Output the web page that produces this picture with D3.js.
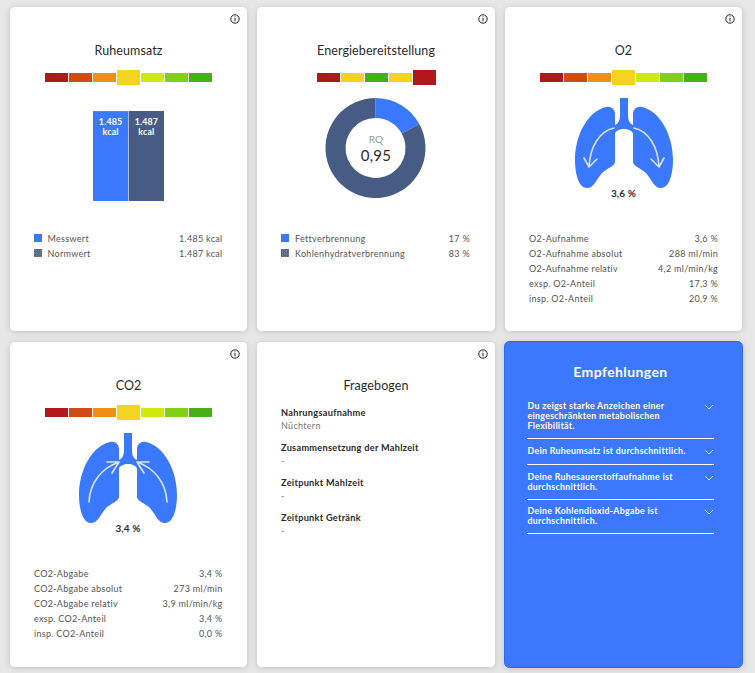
<!DOCTYPE html>
<html><head><meta charset="utf-8">
<script src="https://cdn.jsdelivr.net/npm/d3@7"></script>
<style>html,body{margin:0;padding:0;background:#e7e7e7;overflow:hidden}svg{display:block;font-family:Lato,sans-serif}</style>
</head><body><div id="c"></div>
<script>
// ---- data ----
const gaugeLevels = [0,1,2,3,4,5,6];
const scaleColors = ["#b0181b","#cf4c13","#ee9011","#f4d41f","#cdea0c","#82d012","#46b116"];
const energyColors = ["#b0181b","#f4d41f","#46b116","#f4d41f","#b0181b"];
const energyLevels = [0,1,2,3,4];
const barNames = ["Messwert","Normwert"];
const barValues = [1485,1487];
const barLabels = ["1.485","1.487"];
const barValueLabels = ["1.485 kcal","1.487 kcal"];
const donutNames = ["Fettverbrennung","Kohlenhydratverbrennung"];
const donutValues = [17,83];
const donutValueLabels = ["17 %","83 %"];
const rqValue = "0,95";
const o2Names = ["O2-Aufnahme","O2-Aufnahme absolut","O2-Aufnahme relativ","exsp. O2-Anteil","insp. O2-Anteil"];
const o2Values = ["3,6 %","288 ml/min","4,2 ml/min/kg","17,3 %","20,9 %"];
const co2Names = ["CO2-Abgabe","CO2-Abgabe absolut","CO2-Abgabe relativ","exsp. CO2-Anteil","insp. CO2-Anteil"];
const co2Values = ["3,4 %","273 ml/min","3,9 ml/min/kg","3,4 %","0,0 %"];
const quizQuestions = ["Nahrungsaufnahme","Zusammensetzung der Mahlzeit","Zeitpunkt Mahlzeit","Zeitpunkt Getränk"];
const quizAnswers = ["Nüchtern","-","-","-"];
const adviceTexts = [
 ["Du zeigst starke Anzeichen einer","eingeschränkten metabolischen","Flexibilität."],
 ["Dein Ruheumsatz ist durchschnittlich."],
 ["Deine Ruhesauerstoffaufnahme ist","durchschnittlich."],
 ["Deine Kohlendioxid-Abgabe ist","durchschnittlich."]];

const BLUE="#3a78fd", NAVY="#475c84", INK="#2b2b2b", GREY="#555";
const svg=d3.select("#c").append("svg").attr("width",755).attr("height",673);
const defs=svg.append("defs");
const f=defs.append("filter").attr("id","sh").attr("x","-10%").attr("y","-10%").attr("width","120%").attr("height","120%");
f.append("feDropShadow").attr("dx",0).attr("dy",1).attr("stdDeviation",3).attr("flood-color","#000").attr("flood-opacity",.16);
const pat=defs.append("pattern").attr("id","dots").attr("width",2).attr("height",2).attr("patternUnits","userSpaceOnUse");
pat.append("rect").attr("width",2).attr("height",2).attr("fill","#5d6a82");
pat.append("rect").attr("width",1).attr("height",1).attr("fill","#747f94");

const cards=[[10,7,237,324],[257,7,238,324],[505,7,237,324],[10,342,237,325],[257,342,238,325]];
svg.selectAll("rect.card").data(cards).join("rect").attr("class","card")
 .attr("x",d=>d[0]).attr("y",d=>d[1]).attr("width",d=>d[2]).attr("height",d=>d[3]).attr("rx",5)
 .attr("fill","#fff").attr("filter","url(#sh)");
svg.append("rect").attr("x",504.5).attr("y",341.5).attr("width",238).attr("height",326).attr("rx",5)
 .attr("fill",BLUE).attr("stroke","#2f6ae6").attr("filter","url(#sh)");

function txt(x,y,s,o={}){return svg.append("text").attr("x",x).attr("y",y).text(s)
 .attr("text-anchor",o.a||"start").attr("font-size",o.s||9).attr("font-weight",o.w||400)
 .attr("fill",o.c||GREY).attr("letter-spacing",o.l==null?.3:o.l);}
function info(x,y){const g=svg.append("g").attr("transform",`translate(${x},${y})`);
 g.append("circle").attr("r",4.2).attr("fill","none").attr("stroke","#222").attr("stroke-width",1);
 g.append("line").attr("y1",-1).attr("y2",2.4).attr("stroke","#222").attr("stroke-width",1);
 g.append("line").attr("y1",-2.6).attr("y2",-1.7).attr("stroke","#222").attr("stroke-width",1);}
[[235,19],[483,19],[730,19],[235,354],[483,354]].forEach(p=>info(...p));

function gauge(x0,yc,levels,colors,active){
 const b=d3.scaleBand().domain(levels).range([x0,x0+levels.length*24-1]).paddingInner(1/24).paddingOuter(0);
 svg.append("g").selectAll("rect").data(levels).join("rect")
  .attr("x",d=>b(d)).attr("width",b.bandwidth())
  .attr("y",d=>d===active?yc-7.5:yc-4.5).attr("height",d=>d===active?15:9)
  .attr("fill",d=>colors[d]);
}
function title(x,y,s,c){txt(x,y,s,{a:"middle",s:12.5,c:c||INK,l:.1});}
function rows(x1,x2,y0,names,vals){
 names.forEach((n,i)=>{txt(x1,y0+i*15,n,{});txt(x2,y0+i*15,vals[i],{a:"end"});});
}
function swatches(x,y0){[BLUE,"url(#dots)"].forEach((c,i)=>svg.append("rect").attr("x",x).attr("y",y0+i*15).attr("width",8).attr("height",8).attr("fill",c));}

// ---- Ruheumsatz ----
title(128.5,54.5,"Ruheumsatz");
gauge(45,77.5,gaugeLevels,scaleColors,3);
const bx=d3.scaleBand().domain(barNames).range([93,164]).paddingInner(1/71*1);
const by=d3.scaleLinear().domain([0,d3.max(barValues)]).range([201,111]);
svg.append("g").selectAll("rect").data(barNames).join("rect")
 .attr("x",d=>bx(d)).attr("width",bx.bandwidth())
 .attr("y",(d,i)=>by(barValues[i])).attr("height",(d,i)=>by(0)-by(barValues[i]))
 .attr("fill",(d,i)=>i?NAVY:BLUE);
barNames.forEach((n,i)=>{const cx=bx(n)+bx.bandwidth()/2;
 txt(cx,125,barLabels[i],{a:"middle",s:8.8,w:700,c:"#fff",l:.2});
 txt(cx,134.5,"kcal",{a:"middle",s:8.8,w:700,c:"#fff",l:.2});});
swatches(34,234);
rows(47.5,222.5,241.5,barNames,barValueLabels);

// ---- Energiebereitstellung ----
title(376,54.5,"Energiebereitstellung");
gauge(317,77.5,energyLevels,energyColors,4);
const pie=d3.pie().sort(null).value(d=>d)(donutValues);
const arc=d3.arc().innerRadius(30).outerRadius(50);
svg.append("g").attr("transform","translate(375.5,148)").selectAll("path").data(pie).join("path")
 .attr("d",arc).attr("fill",(d,i)=>i?NAVY:BLUE);
txt(376,143,"RQ",{a:"middle",s:10,c:"#999",l:.2});
txt(376,160.5,rqValue,{a:"middle",s:15,c:INK,l:.2});
swatches(281,234);
rows(295,470,241.5,donutNames,donutValueLabels);

// ---- Lungs ----
const lung="M-4 98H4V114C4 120 5 123 9 125V114C9 109 13 106 18 107C36 111 49 135 49 160C49 172 46 188 37 188C30 188 28 180 22 173C18 169 9 166 9 162V134C9 131 4 129 0 129C-4 129 -9 131 -9 134V162C-9 166 -18 169 -22 173C-28 180 -30 188 -37 188C-46 188 -49 172 -49 160C-49 135 -36 111 -18 107C-13 106 -9 109 -9 114V125C-5 123 -4 120 -4 114Z";
const arrowStyle=g=>g.attr("fill","none").attr("stroke","#d9e4fb").attr("stroke-width",1.6).attr("stroke-linecap","round").attr("stroke-linejoin","round");
function lungs(cx,dy,arrows){const g=svg.append("g").attr("transform",`translate(${cx},${dy})`);
 g.append("path").attr("d",lung).attr("fill",BLUE);
 arrows.forEach(a=>g.append("path").attr("d",a).call(arrowStyle));}
title(623.5,54.5,"O2");
gauge(540,77.5,gaugeLevels,scaleColors,3);
lungs(624,0,["M-10 128C-24 131 -34 146 -35 167M-40 158L-35 167L-27 159","M10 128C24 131 34 146 35 167M40 158L35 167L27 159"]);
txt(623.5,196.5,"3,6 %",{a:"middle",s:10,w:700,c:INK,l:.1});
rows(529,718,241.5,o2Names,o2Values);

title(128.5,389.5,"CO2");
gauge(45,412.5,gaugeLevels,scaleColors,3);
lungs(128,335,["M-39 167C-38 147 -26 133 -9 127M-21 127L-9 127L-16 138","M39 167C38 147 26 133 9 127M21 127L9 127L16 138"]);
txt(128,531.5,"3,4 %",{a:"middle",s:10,w:700,c:INK,l:.1});
rows(34,222.5,576.5,co2Names,co2Values);

// ---- Fragebogen ----
title(376,389.5,"Fragebogen");
quizQuestions.forEach((q,i)=>{const y=415.5+i*35;
 txt(281,y,q,{w:700,c:INK,s:9.2,l:.28});
 txt(281,y+13,quizAnswers[i],{c:"#777",s:9,l:.3});});

// ---- Empfehlungen ----
txt(620.5,377,"Empfehlungen",{a:"middle",s:14,w:700,c:"#fff",l:.4});
const lineYs=[438.5,464.5,499.5,533.5];
const startYs=[409,454,480,514];
adviceTexts.forEach((lines,i)=>{
 lines.forEach((l,j)=>txt(527.5,startYs[i]+j*10,l,{s:8.8,w:700,c:"#fff",l:.3}));
 svg.append("line").attr("x1",527).attr("x2",714).attr("y1",lineYs[i]).attr("y2",lineYs[i]).attr("stroke","#fff").attr("stroke-width",1);
 const cy=startYs[i]-2;
 svg.append("path").attr("d",`M705 ${cy-2}L709 ${cy+2}L713 ${cy-2}`).attr("fill","none").attr("stroke","#dfe8fd").attr("stroke-width",.9);
});
</script></body></html>
